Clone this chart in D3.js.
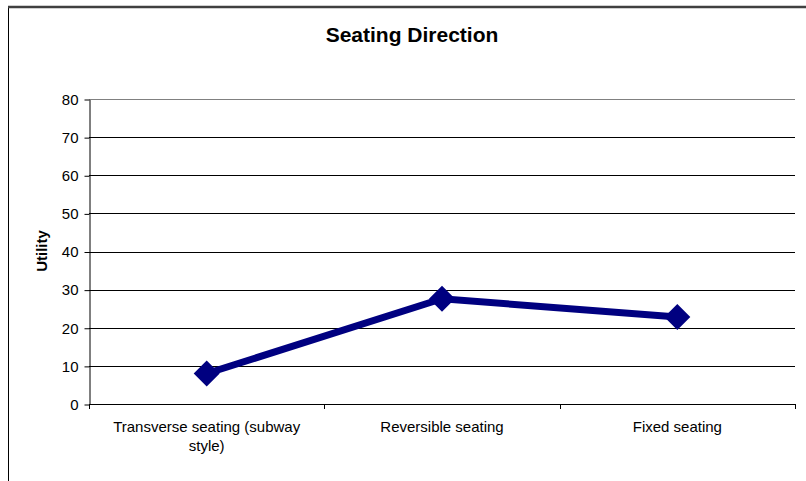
<!DOCTYPE html>
<html>
<head>
<meta charset="utf-8">
<script src="https://cdn.jsdelivr.net/npm/d3@7"></script>
<style>
  html, body { margin: 0; padding: 0; background: #fff; }
  svg { display: block; font-family: Arial, "Liberation Sans", sans-serif; }
</style>
</head>
<body>
<svg id="chart" width="806" height="481"></svg>
<script>
// Seating direction utilities
const categories = [["Transverse seating (subway", "style)"], ["Reversible seating"], ["Fixed seating"]];
const utilityValues = [8.0, 27.6, 22.8];
const yTicks = [0, 10, 20, 30, 40, 50, 60, 70, 80];

const svg = d3.select("#chart");
const W = 806, H = 481;
const plot = { left: 89, right: 795, top: 99, bottom: 404 };

// outer chart frame
svg.append("rect").attr("width", W).attr("height", H).attr("fill", "#fff");
svg.append("line").attr("x1", 8.5).attr("x2", 8.5).attr("y1", 6).attr("y2", H)
  .attr("stroke", "#000").attr("stroke-width", 1);
svg.append("line").attr("x1", 8).attr("x2", W).attr("y1", 7).attr("y2", 7)
  .attr("stroke", "#404040").attr("stroke-width", 2.5);

const x = d3.scaleBand().domain(d3.range(categories.length))
  .range([plot.left, plot.right]).padding(0);
const y = d3.scaleLinear().domain([0, 80]).range([plot.bottom, plot.top]);

// horizontal gridlines
svg.append("g").selectAll("line").data(yTicks.filter(t => t > 0)).join("line")
  .attr("x1", plot.left).attr("x2", plot.right)
  .attr("y1", d => Math.round(y(d)) + 0.5).attr("y2", d => Math.round(y(d)) + 0.5)
  .attr("stroke", d => d === 80 ? "#808080" : "#000").attr("stroke-width", 1);

// y axis
const yAxis = d3.axisLeft(y).tickValues(yTicks).tickSize(5).tickPadding(6).tickSizeOuter(0);
const gy = svg.append("g").attr("transform", `translate(${plot.left + 0.5},0.5)`).call(yAxis);
gy.selectAll("text").attr("font-size", 15).attr("fill", "#000")
  .attr("font-family", "Arial, 'Liberation Sans', sans-serif");
gy.selectAll("line, path").attr("stroke", "#000");

// x axis with ticks at category boundaries
svg.append("line").attr("x1", plot.left).attr("x2", plot.right + 1)
  .attr("y1", plot.bottom + 0.5).attr("y2", plot.bottom + 0.5).attr("stroke", "#000");
const bounds = d3.range(categories.length + 1).map(i => i < categories.length ? x(i) : plot.right);
svg.append("g").selectAll("line").data(bounds).join("line")
  .attr("x1", d => Math.round(d) + 0.5).attr("x2", d => Math.round(d) + 0.5)
  .attr("y1", plot.bottom).attr("y2", plot.bottom + 5).attr("stroke", "#000");

// category labels
const labels = svg.append("g").selectAll("text").data(categories).join("text")
  .attr("text-anchor", "middle").attr("font-size", 15).attr("fill", "#000")
  .attr("x", (d, i) => x(i) + x.bandwidth() / 2).attr("y", 432);
labels.selectAll("tspan").data(d => d).join("tspan")
  .attr("x", function() { return d3.select(this.parentNode).attr("x"); })
  .attr("dy", (d, i) => i === 0 ? 0 : 19)
  .text(d => d);

// series line
const cx = i => x(i) + x.bandwidth() / 2;
svg.append("path").datum(utilityValues)
  .attr("fill", "none").attr("stroke", "#000080").attr("stroke-width", 7)
  .attr("stroke-linejoin", "miter")
  .attr("d", d3.line().x((d, i) => cx(i)).y(d => y(d)));

// diamond markers
svg.append("g").selectAll("path").data(utilityValues).join("path")
  .attr("transform", (d, i) => `translate(${cx(i)},${y(d)})`)
  .attr("d", "M0,-13L13,0L0,13L-13,0Z")
  .attr("fill", "#000080");

// title
svg.append("text").attr("x", 412).attr("y", 42).attr("text-anchor", "middle")
  .attr("font-size", 21).attr("font-weight", "bold").attr("fill", "#000")
  .text("Seating Direction");

// y axis title
svg.append("text").attr("transform", "translate(47,251) rotate(-90)")
  .attr("text-anchor", "middle").attr("font-size", 15).attr("font-weight", "bold")
  .attr("fill", "#000").text("Utility");
</script>
</body>
</html>
